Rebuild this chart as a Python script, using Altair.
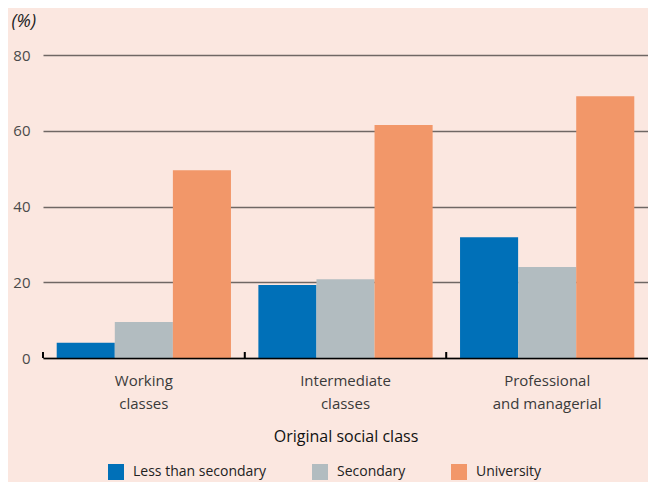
import altair as alt
import pandas as pd

classes = ["Working classes", "Intermediate classes", "Professional and managerial"]
levels = ["Less than secondary", "Secondary", "University"]
less_than_secondary = [4.0, 19.3, 31.9]
secondary = [9.5, 20.8, 24.0]
university = [49.6, 61.5, 69.1]
colors = ["#0070b8", "#b2bcc0", "#f29769"]
y_ticks = [0, 20, 40, 60, 80]

series = {"Less than secondary": less_than_secondary, "Secondary": secondary, "University": university}
rows = []
for i, c in enumerate(classes):
    for l in levels:
        rows.append({"cls": c, "level": l, "value": series[l][i]})
df = pd.DataFrame(rows)

label_expr = "[slice(datum.label, 0, indexof(datum.label, ' ')), slice(datum.label, indexof(datum.label, ' ') + 1)]"

x_axis = alt.Axis(title="Original social class", labelAngle=0, labelExpr=label_expr,
                  ticks=False, domainColor="#000000", domainWidth=1.6,
                  labelPadding=15, labelLineHeight=23, labelFontSize=15,
                  labelColor="#3a3a3a", titleFontSize=16, titleFontWeight="normal",
                  titleColor="#111111", titlePadding=17, zindex=1)

base = alt.Chart(df)

bars = base.mark_bar().encode(
    x=alt.X("cls:N", sort=classes,
            scale=alt.Scale(paddingInner=0, paddingOuter=0),
            axis=x_axis),
    xOffset=alt.XOffset("level:N", sort=levels,
                        scale=alt.Scale(paddingInner=0, paddingOuter=0.236)),
    y=alt.Y("value:Q", scale=alt.Scale(domain=[0, 80]),
            axis=alt.Axis(values=y_ticks, title="(%)", titleAngle=0, titleX=-32, titleY=-34,
                          titleAlign="left", titleBaseline="middle", titleFontStyle="italic",
                          titleFontWeight="normal", titleFontSize=18, titleColor="#222222",
                          domain=False, ticks=False, labelPadding=13, labelFontSize=15,
                          labelColor="#4a4a4a", gridColor="#6f6764", gridWidth=1.4)),
    color=alt.Color("level:N", sort=levels,
                    scale=alt.Scale(domain=levels, range=colors),
                    legend=alt.Legend(title=None, orient="none", legendX=65, legendY=409,
                                      direction="horizontal", symbolType="square",
                                      symbolSize=256, labelFontSize=14, labelOffset=9,
                                      columnPadding=45, symbolStrokeWidth=0,
                                      labelColor="#222222")),
)

ticks = base.mark_rule(color="#000000", strokeWidth=1.5).encode(
    x=alt.X("cls:N", sort=classes, bandPosition=0, axis=x_axis),
    y=alt.value(297),
    y2=alt.value(303),
)

chart = alt.layer(bars, ticks).properties(
    width=605, height=303,
    padding={"left": 35, "top": 47, "right": 0, "bottom": 124},
    autosize="none",
    background="#fbe7e0",
).configure(font="Open Sans").configure_view(stroke=None)

chart.save("out.html", embed_options={"renderer": "svg", "actions": False})
